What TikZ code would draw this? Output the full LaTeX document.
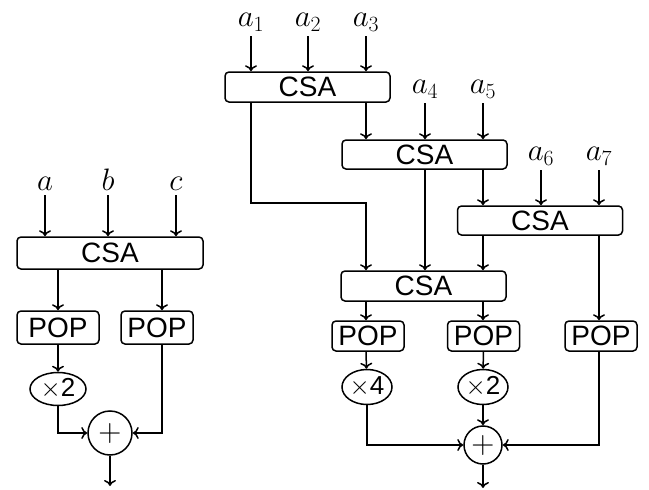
\RequirePackage{fix-cm}
\documentclass[tikz,border=0pt]{standalone}
\usepackage{fontspec}
\setsansfont{Liberation Sans}
\usetikzlibrary{arrows.meta,shapes.geometric}

\begin{document}
\begin{tikzpicture}[x=1pt, y=-1pt, line width=1.5pt, >={To[length=6pt,width=12pt]},
  every node/.style={font=\fontsize{28}{32}\sffamily},
  csa/.style={draw, rounded corners=4pt, minimum width=165pt, minimum height=30pt, inner sep=0pt},
  pop/.style={draw, rounded corners=4pt, minimum width=72pt, minimum height=30pt, inner sep=0pt},
  mul/.style={draw, ellipse, minimum width=50pt, minimum height=35pt, inner sep=0pt, font=\fontsize{26}{30}\sffamily},
  adder/.style={draw, circle, minimum size=38pt, inner sep=0pt, font=\fontsize{32}{36}\selectfont},
  inp/.style={anchor=south, inner sep=4pt, font=\fontsize{31}{35}\selectfont}]
  \useasboundingbox (0,0) rectangle (649,490);

  % three inputs, one CSA
  \node[inp] (a) at (45,195) {$a$};
  \node[inp] (b) at (108,195) {$b$};
  \node[inp] (c) at (176,195) {$c$};
  \node[csa, minimum width=186pt, minimum height=32pt] (csa0) at (110,253) {CSA};
  \node[pop, minimum width=82pt, minimum height=33pt] (pop0) at (58,327.5) {POP};
  \node[pop, minimum height=33pt] (pop00) at (157,327.5) {POP};
  \node[mul, minimum width=56pt, minimum height=33pt] (mul0) at (58,389) {$\times$2};
  \node[adder, minimum size=44pt] (add0) at (110,433) {$+$};
  \coordinate (out0) at (110,486);

  \draw[->] (a) -- (a |- csa0.north);
  \draw[->] (b) -- (b |- csa0.north);
  \draw[->] (c) -- (c |- csa0.north);
  \draw[->] (csa0.south -| pop0) -- (pop0);
  \draw[->] ([xshift=5pt]pop00.north |- csa0.south) -- ([xshift=5pt]pop00.north);
  \draw[->] (pop0) -- (mul0);
  \draw[->] (mul0) |- (add0);
  \draw[->] ([xshift=5pt]pop00.south) |- (add0);
  \draw[->] (add0) -- (out0);

  % seven inputs, four CSAs
  \node[inp] (a1) at (251,36) {$a_1$};
  \node[inp] (a2) at (308,36) {$a_2$};
  \node[inp] (a3) at (366,36) {$a_3$};
  \node[inp] (a4) at (425,103) {$a_4$};
  \node[inp] (a5) at (483,103) {$a_5$};
  \node[inp] (a6) at (541,170) {$a_6$};
  \node[inp] (a7) at (599,170) {$a_7$};

  \node[csa] (csa1) at (307.5,87) {CSA};
  \node[csa, minimum height=29pt] (csa2) at (424.5,154.5) {CSA};
  \node[csa, minimum height=29pt] (csa3) at (540,220.5) {CSA};
  \node[csa] (csa4) at (423.5,286) {CSA};
  \node[pop] (pop1) at (368,336) {POP};
  \node[pop] (pop2) at (483.5,336) {POP};
  \node[pop] (pop3) at (601,336) {POP};
  \node[mul] (mul1) at (367,387) {$\times$4};
  \node[mul] (mul2) at (483,387) {$\times$2};
  \node[adder] (add1) at (483,445) {$+$};
  \coordinate (out1) at (483,488);

  \draw[->] (a1) -- (a1 |- csa1.north);
  \draw[->] (a2) -- (a2 |- csa1.north);
  \draw[->] (a3) -- (a3 |- csa1.north);
  \draw[->] (a4) -- (a4 |- csa2.north);
  \draw[->] (a5) -- (a5 |- csa2.north);
  \draw[->] (a6) -- (a6 |- csa3.north);
  \draw[->] (a7) -- (a7 |- csa3.north);

  \draw[->] (a1 |- csa1.south) -- (a1 |- 0,203) -| (a3 |- csa4.north);
  \draw[->] (a3 |- csa1.south) -- (a3 |- csa2.north);
  \draw[->] (a4 |- csa2.south) -- (a4 |- csa4.north);
  \draw[->] (a5 |- csa2.south) -- (a5 |- csa3.north);
  \draw[->] (a5 |- csa3.south) -- (a5 |- csa4.north);
  \draw[->] (a7 |- csa3.south) -- (a7 |- pop3.north);

  \draw[->] (a3 |- csa4.south) -- (a3 |- pop1.north);
  \draw[->] (a5 |- csa4.south) -- (a5 |- pop2.north);
  \draw[->] (a3 |- pop1.south) -- (mul1);
  \draw[->] (pop2) -- (mul2);
  \draw[->] (mul1) |- (add1);
  \draw[->] (mul2) -- (add1);
  \draw[->] (a7 |- pop3.south) |- (add1);
  \draw[->] (add1) -- (out1);
\end{tikzpicture}
\end{document}
